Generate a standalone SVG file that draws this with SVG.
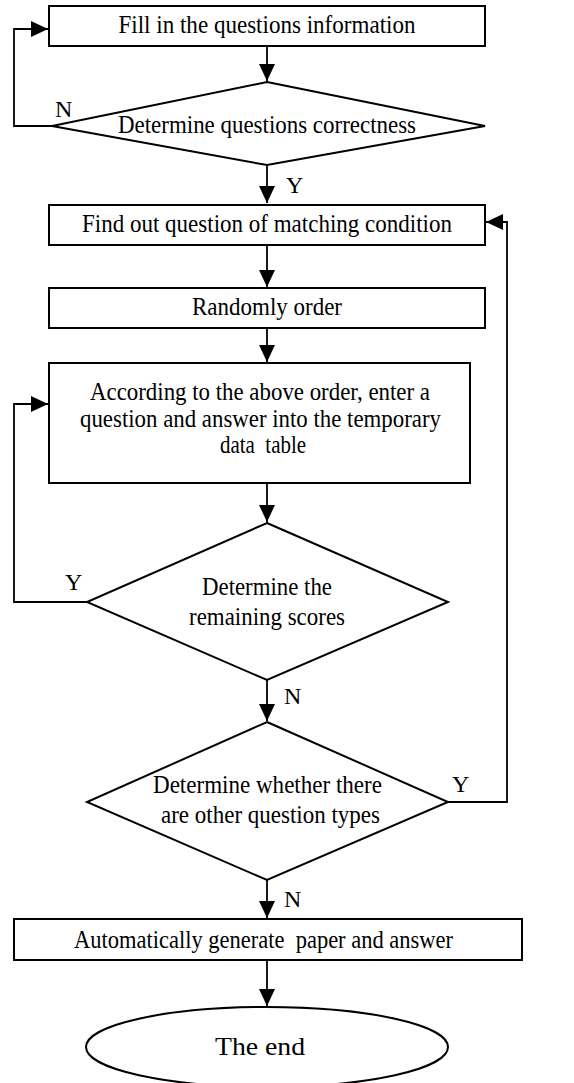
<svg xmlns="http://www.w3.org/2000/svg" width="574" height="1083" viewBox="0 0 574 1083">
<defs>
<style>
.n{fill:#fff;stroke:#000;stroke-width:2}
.c{fill:none;stroke:#000;stroke-width:1.8}
text{font-family:"Liberation Serif","Times New Roman",serif;font-size:25px;fill:#000}
.m{text-anchor:middle}
.l{font-size:24px}
</style>
<marker id="a" markerUnits="userSpaceOnUse" markerWidth="18" markerHeight="16" refX="17" refY="8" orient="auto">
<path d="M0,0 L17,8 L0,16 z" fill="#000"/>
</marker>
</defs>
<rect width="574" height="1083" fill="#fff"/>
<g id="connectors">
<path class="c" d="M267,46 V81" marker-end="url(#a)"/>
<path class="c" d="M52,126 H14 V29 H48" marker-end="url(#a)"/>
<path class="c" d="M267,165 V203" marker-end="url(#a)"/>
<path class="c" d="M267,245 V287" marker-end="url(#a)"/>
<path class="c" d="M267,328 V362" marker-end="url(#a)"/>
<path class="c" d="M267,483 V522" marker-end="url(#a)"/>
<path class="c" d="M87,602 H14 V404 H48" marker-end="url(#a)"/>
<path class="c" d="M267,680 V721" marker-end="url(#a)"/>
<path class="c" d="M448,802 H507 V222 H486" marker-end="url(#a)"/>
<path class="c" d="M267,880 V918" marker-end="url(#a)"/>
<path class="c" d="M267,960 V1006" marker-end="url(#a)"/>
<text class="l" x="55" y="117">N</text>
<text class="l" x="286" y="193">Y</text>
<text class="l" x="65" y="590">Y</text>
<text class="l" x="284" y="704">N</text>
<text class="l" x="452" y="792">Y</text>
<text class="l" x="284" y="907">N</text>
</g>
<g id="fill-info">
<rect class="n" x="49" y="6" width="436" height="40"/>
<text class="m" x="267" y="33" textLength="297" lengthAdjust="spacingAndGlyphs">Fill in the questions information</text>
</g>
<g id="check-correctness">
<polygon class="n" points="267,82 485,126 267,165 52,126"/>
<text class="m" x="267" y="133" textLength="298" lengthAdjust="spacingAndGlyphs">Determine questions correctness</text>
</g>
<g id="find-matching">
<rect class="n" x="49" y="205" width="436" height="40"/>
<text class="m" x="267" y="232" textLength="370" lengthAdjust="spacingAndGlyphs">Find out question of matching condition</text>
</g>
<g id="random-order">
<rect class="n" x="49" y="288" width="436" height="40"/>
<text class="m" x="267" y="315" textLength="150" lengthAdjust="spacingAndGlyphs">Randomly order</text>
</g>
<g id="enter-question">
<rect class="n" x="49" y="363" width="421" height="120"/>
<text class="m" x="260" y="400" textLength="340" lengthAdjust="spacingAndGlyphs">According to the above order, enter a</text>
<text class="m" x="260.5" y="427" textLength="361" lengthAdjust="spacingAndGlyphs">question and answer into the temporary</text>
<text class="m" x="263" y="453" textLength="86" lengthAdjust="spacingAndGlyphs" xml:space="preserve">data  table</text>
</g>
<g id="remaining-scores">
<polygon class="n" points="267,523 448,602 267,680 87,602"/>
<text class="m" x="267" y="595" textLength="130" lengthAdjust="spacingAndGlyphs">Determine the</text>
<text class="m" x="267" y="625" textLength="156" lengthAdjust="spacingAndGlyphs">remaining scores</text>
</g>
<g id="other-types">
<polygon class="n" points="267,722 448,802 267,880 87,802"/>
<text class="m" x="267.5" y="793" textLength="229" lengthAdjust="spacingAndGlyphs">Determine whether there</text>
<text class="m" x="270.5" y="823" textLength="219" lengthAdjust="spacingAndGlyphs">are other question types</text>
</g>
<g id="generate-paper">
<rect class="n" x="14" y="919" width="508" height="41"/>
<text class="m" x="263.5" y="948" textLength="379" lengthAdjust="spacingAndGlyphs" xml:space="preserve">Automatically generate  paper and answer</text>
</g>
<g id="the-end">
<ellipse class="n" cx="267" cy="1047" rx="181" ry="40"/>
<text class="m" x="260" y="1055" textLength="90" lengthAdjust="spacingAndGlyphs">The end</text>
</g>
</svg>
